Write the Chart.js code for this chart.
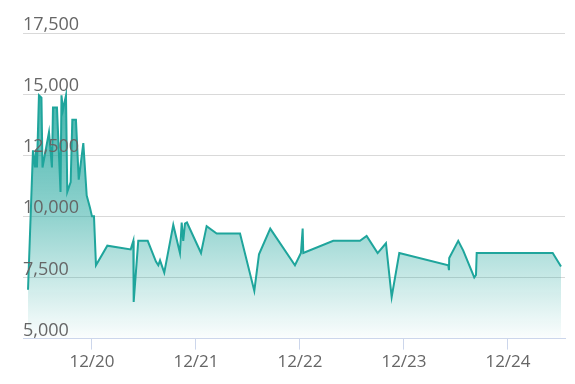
<!DOCTYPE html>
<html>
<head>
<meta charset="utf-8">
<script src="https://cdn.jsdelivr.net/npm/chart.js@4/dist/chart.umd.min.js"></script>
<style>
  html, body { margin: 0; padding: 0; background: #ffffff; }
  #wrap { width: 575px; height: 384px; }
</style>
</head>
<body>
<div id="wrap"><canvas id="c" width="575" height="384"></canvas></div>
<script>
// x = month index counted from Jan 2020 (0 = Jan 2020, 11 = Dec 2020)
const months = [
  3.62, 4.19, 4.42, 4.54, 4.65, 4.88, 5.17, 5.29, 6.04, 6.38,
  6.50, 6.96, 7.37, 7.48, 7.65, 8.00, 8.15, 8.54, 8.73, 9.15,
  9.47, 10.00, 10.39, 10.77, 11.00, 11.23, 11.46, 12.77, 15.47, 15.77,
  15.81, 16.34, 17.43, 18.38, 18.65, 18.85, 19.34, 20.38, 21.15, 21.35,
  21.53, 21.73, 21.96, 23.58, 24.23, 25.39, 28.08, 29.73, 30.27, 31.57,
  34.42, 35.11, 35.31, 35.38, 38.84, 41.92, 42.69, 43.96, 44.92, 45.58,
  46.46, 52.11, 52.19, 52.22, 53.26, 53.84, 55.11, 55.31, 55.39, 64.16,
  65.12
];
const prices = [
  7000, 12700, 12000, 12700, 12000, 14950, 14850, 12000, 13450, 12000,
  14450, 14450, 11000, 14950, 14350, 14950, 11000, 11400, 13950, 13950,
  11500, 13000, 10850, 10350, 10000, 10000, 8000, 8800, 8650, 9000,
  6500, 9000, 9000, 8150, 8000, 8200, 7700, 9650, 8500, 9750,
  9000, 9700, 9750, 8500, 9600, 9300, 9300, 6950, 8450, 9500,
  8000, 8500, 9500, 8500, 9000, 9000, 9200, 8500, 8900, 6700,
  8500, 8000, 7800, 8300, 9000, 8600, 7500, 7600, 8500, 8500,
  7950
];
const xTickValues = [11, 23, 35, 47, 59];
const xTickLabels = ['12/20', '12/21', '12/22', '12/23', '12/24'];
const yTickValues = [5000, 7500, 10000, 12500, 15000, 17500];

const points = months.map((m, i) => ({ x: m, y: prices[i] }));
const FONT = "'Open Sans', 'Noto Sans', sans-serif";

function areaGradient(context) {
  const chart = context.chart;
  const area = chart.chartArea;
  if (!area) return 'rgba(31,165,156,0.5)';
  const g = chart.ctx.createLinearGradient(0, area.top, 0, area.bottom);
  g.addColorStop(0, 'rgba(31,165,156,1)');
  g.addColorStop(0.2, 'rgba(31,165,156,0.84)');
  g.addColorStop(0.6, 'rgba(31,165,156,0.49)');
  g.addColorStop(0.8, 'rgba(31,165,156,0.25)');
  g.addColorStop(1, 'rgba(31,165,156,0.02)');
  return g;
}

new Chart(document.getElementById('c'), {
  type: 'line',
  data: {
    datasets: [{
      data: points,
      borderColor: '#1fa59c',
      borderWidth: 2,
      backgroundColor: areaGradient,
      fill: 'start',
      tension: 0,
      pointRadius: 0,
      pointHoverRadius: 0
    }]
  },
  options: {
    responsive: false,
    animation: false,
    events: [],
    layout: { padding: { left: 23, right: 10, top: 33, bottom: 10 } },
    plugins: { legend: { display: false }, tooltip: { enabled: false } },
    scales: {
      x: {
        type: 'linear',
        min: 3.04,
        max: 65.58,
        afterBuildTicks: (scale) => { scale.ticks = xTickValues.map(v => ({ value: v })); },
        ticks: {
          autoSkip: false,
          maxRotation: 0,
          padding: 2,
          color: '#666666',
          font: { family: FONT, size: 17 },
          callback: (v) => { const i = xTickValues.indexOf(v); return i >= 0 ? xTickLabels[i] : ''; }
        },
        grid: { drawOnChartArea: false, drawTicks: true, tickLength: 11, color: '#ccd6eb', lineWidth: 1 },
        border: { display: true, color: '#ccd6eb', width: 1, z: 1 }
      },
      y: {
        min: 5000,
        max: 17500,
        afterBuildTicks: (scale) => { scale.ticks = yTickValues.map(v => ({ value: v })); },
        ticks: {
          mirror: true,
          padding: 0,
          labelOffset: -8,
          z: 1,
          color: '#666666',
          font: { family: FONT, size: 18 },
          callback: (v) => Number(v).toLocaleString('en-US')
        },
        grid: { color: '#d9d9d9', lineWidth: 1, drawTicks: false },
        border: { display: false }
      }
    }
  }
});
</script>
</body>
</html>
